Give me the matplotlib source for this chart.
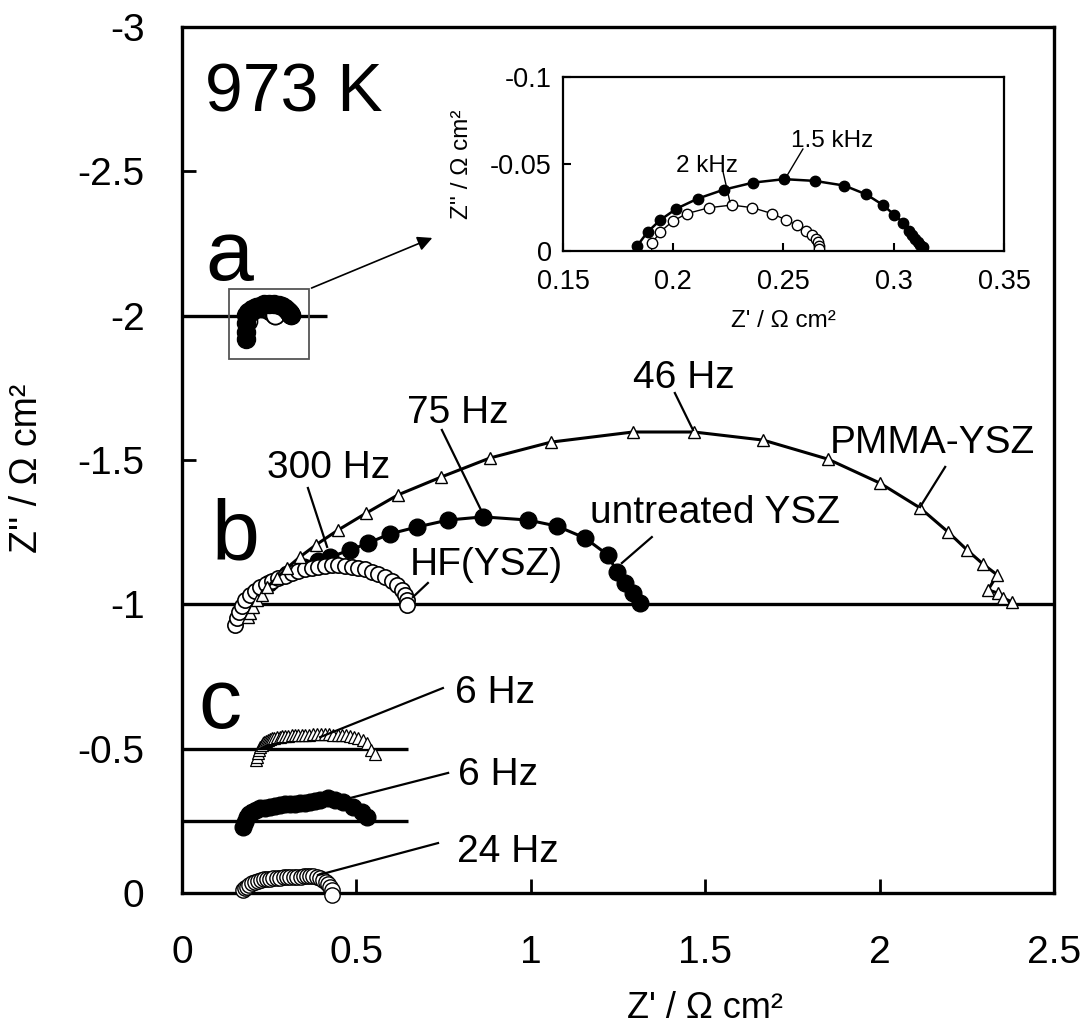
import numpy as np
import matplotlib
matplotlib.use("Agg")
import matplotlib.pyplot as plt
from matplotlib.patches import Rectangle

plt.rcParams['font.family'] = ['Liberation Sans', 'DejaVu Sans']
plt.rcParams['axes.unicode_minus'] = False

# vertical offsets of the stacked spectra
off_a = -2.0
off_b = -1.0
off_c_tri = -0.5
off_c_fill = -0.25
off_c_open = 0.0

# panel a (and inset): untreated YSZ (filled) / HF(YSZ) (open), Z' and Z''
a_fill_x = [0.183, 0.183, 0.183, 0.1836, 0.1884, 0.1941, 0.2014, 0.2111, 0.2228, 0.2362, 0.2503,
            0.2641, 0.2776, 0.2876, 0.2949, 0.3002, 0.3043, 0.3067, 0.3083, 0.3096, 0.3108,
            0.3119, 0.3132]
a_fill_y = [0.080, 0.055, 0.025, -0.0029, -0.0110, -0.0178, -0.0243, -0.0301, -0.0352, -0.0393,
            -0.0413, -0.0403, -0.0376, -0.0325, -0.0266, -0.0209, -0.0162, -0.0117, -0.0090,
            -0.0070, -0.0053, -0.0037, -0.0025]
a_open_x = [0.189, 0.1904, 0.1941, 0.1998, 0.2062, 0.2163, 0.2265, 0.2359, 0.2448, 0.2513,
            0.2562, 0.2600, 0.2630, 0.2646, 0.2656, 0.2662, 0.2659]
a_open_y = [0.020, -0.0045, -0.0110, -0.0172, -0.0215, -0.0249, -0.0264, -0.0249, -0.0215,
            -0.0178, -0.0147, -0.0117, -0.0090, -0.0070, -0.0049, -0.0029, -0.0010]

# panel b: PMMA-YSZ (triangles), untreated YSZ (filled), HF(YSZ) (open)
b_tri_x = [0.189, 0.195, 0.204, 0.215, 0.229, 0.244, 0.272, 0.301, 0.338, 0.384, 0.447, 0.528,
           0.619, 0.743, 0.883, 1.058, 1.293, 1.468, 1.666, 1.852, 2.001, 2.116, 2.196, 2.251,
           2.296, 2.337, 2.311, 2.339, 2.354, 2.380]
b_tri_y = [0.044, 0.030, 0.009, -0.015, -0.032, -0.060, -0.091, -0.126, -0.164, -0.206, -0.257,
           -0.316, -0.379, -0.441, -0.507, -0.562, -0.597, -0.597, -0.569, -0.503, -0.420,
           -0.334, -0.251, -0.188, -0.140, -0.102, -0.050, -0.039, -0.022, -0.008]
b_fill_x = [0.20, 0.25, 0.30, 0.35, 0.39, 0.424, 0.482, 0.533, 0.596, 0.674, 0.763, 0.863, 0.992,
            1.075, 1.155, 1.221, 1.247, 1.270, 1.293, 1.313]
b_fill_y = [-0.030, -0.075, -0.105, -0.130, -0.150, -0.164, -0.188, -0.212, -0.244, -0.268,
            -0.292, -0.303, -0.292, -0.271, -0.230, -0.171, -0.112, -0.074, -0.039, -0.005]
b_open_x = [0.152, 0.157, 0.162, 0.171, 0.181, 0.195, 0.209, 0.224, 0.241, 0.257, 0.276, 0.295,
            0.314, 0.334, 0.353, 0.372, 0.391, 0.410, 0.429, 0.448, 0.467, 0.486, 0.506, 0.525,
            0.544, 0.563, 0.582, 0.601, 0.616, 0.630, 0.639, 0.644, 0.644]
b_open_y = [0.072, 0.048, 0.025, 0.006, -0.015, -0.032, -0.047, -0.059, -0.070, -0.081, -0.090,
            -0.098, -0.107, -0.115, -0.122, -0.127, -0.130, -0.134, -0.135, -0.135, -0.134,
            -0.131, -0.127, -0.121, -0.113, -0.104, -0.094, -0.081, -0.066, -0.050, -0.032,
            -0.015, 0.002]

# panel c
c_tri_x = [0.212, 0.215, 0.218, 0.221, 0.224, 0.228, 0.232, 0.236, 0.241, 0.246, 0.252, 0.258,
           0.265, 0.272, 0.280, 0.288, 0.296, 0.305, 0.314, 0.323, 0.333, 0.343, 0.353, 0.364,
           0.375, 0.386, 0.398, 0.410, 0.422, 0.434, 0.446, 0.458, 0.470, 0.482, 0.494, 0.506,
           0.518, 0.530, 0.542, 0.553]
c_tri_y = [0.040, 0.028, 0.015, 0.004, -0.006, -0.013, -0.019, -0.024, -0.028, -0.031, -0.034,
           -0.036, -0.038, -0.040, -0.041, -0.043, -0.044, -0.045, -0.046, -0.047, -0.048,
           -0.048, -0.049, -0.049, -0.050, -0.050, -0.050, -0.050, -0.050, -0.049, -0.049,
           -0.048, -0.047, -0.045, -0.042, -0.036, -0.030, -0.018, 0.005, 0.020]
c_fill_x = [0.175, 0.180, 0.186, 0.193, 0.201, 0.212, 0.224, 0.238, 0.252, 0.266, 0.281, 0.295,
            0.310, 0.324, 0.338, 0.352, 0.367, 0.381, 0.396, 0.419, 0.440, 0.462, 0.490, 0.516,
            0.530]
c_fill_y = [0.021, 0.004, -0.013, -0.023, -0.031, -0.038, -0.044, -0.046, -0.048, -0.051,
            -0.055, -0.057, -0.058, -0.060, -0.062, -0.063, -0.065, -0.068, -0.072, -0.079,
            -0.072, -0.065, -0.048, -0.031, -0.013]
c_open_x = [0.175, 0.180, 0.186, 0.193, 0.201, 0.209, 0.218, 0.227, 0.236, 0.244, 0.253, 0.262,
            0.272, 0.282, 0.292, 0.301, 0.311, 0.320, 0.330, 0.340, 0.349, 0.358, 0.368, 0.377,
            0.387, 0.396, 0.404, 0.412, 0.419, 0.425, 0.430, 0.430]
c_open_y = [-0.010, -0.016, -0.021, -0.028, -0.035, -0.039, -0.042, -0.045, -0.047, -0.048,
            -0.050, -0.051, -0.052, -0.053, -0.054, -0.055, -0.055, -0.056, -0.056, -0.057,
            -0.058, -0.058, -0.059, -0.058, -0.055, -0.051, -0.045, -0.038, -0.031, -0.021,
            -0.010, 0.007]

# baselines: (y, x end)
baselines = [(off_a, 0.415), (off_b, 2.5), (off_c_tri, 0.648), (off_c_fill, 0.648)]

x_ticks = [0, 0.5, 1, 1.5, 2, 2.5]
x_ticklabels = ["0", "0.5", "1", "1.5", "2", "2.5"]
y_ticks = [0, -0.5, -1, -1.5, -2, -2.5, -3]
y_ticklabels = ["0", "-0.5", "-1", "-1.5", "-2", "-2.5", "-3"]
in_x_ticks = [0.15, 0.2, 0.25, 0.3, 0.35]
in_x_ticklabels = ["0.15", "0.2", "0.25", "0.3", "0.35"]
in_y_ticks = [0, -0.05, -0.1]
in_y_ticklabels = ["0", "-0.05", "-0.1"]

# label, text anchor (baseline), alignment, leader start, leader end
notes = [
    ("300 Hz", (0.244, -1.438), 'left', (0.361, -1.403), (0.416, -1.199)),
    ("75 Hz", (0.645, -1.628), 'left', (0.745, -1.604), (0.860, -1.320)),
    ("46 Hz", (1.293, -1.749), 'left', (1.413, -1.732), (1.465, -1.604)),
    ("PMMA-YSZ", (1.858, -1.524), 'left', (2.188, -1.476), (2.116, -1.337)),
    ("untreated YSZ", (1.886, -1.282), 'right', (1.347, -1.233), (1.261, -1.143)),
    ("HF(YSZ)", (0.654, -1.102), 'left', (0.705, -1.074), (0.662, -1.025)),
    ("6 Hz", (0.783, -0.658), 'left', (0.748, -0.710), (0.396, -0.540)),
    ("6 Hz", (0.791, -0.374), 'left', (0.763, -0.416), (0.482, -0.329)),
    ("24 Hz", (0.788, -0.107), 'left', (0.734, -0.173), (0.390, -0.062)),
]
in_notes = [
    ("1.5 kHz", (0.2534, -0.0598), (0.2588, -0.0586), (0.2507, -0.0414)),
    ("2 kHz", (0.2012, -0.0454), (0.2226, -0.0454), (0.2257, -0.0282)),
]


def shift(vals, off):
    return np.array(vals) + off


fig = plt.figure(figsize=(10.88, 10.32), dpi=100)
ax = fig.add_axes([0.16728, 0.13469, 0.80147, 0.83915])

for yb, xe in baselines:
    ax.plot([0, xe], [yb, yb], color='k', lw=2.4, zorder=2, solid_capstyle='butt')

# panel a
ax.plot(a_open_x, shift(a_open_y, off_a), 'o', ms=13, mfc='white', mec='k', mew=1.2, zorder=3)
ax.plot(a_fill_x, shift(a_fill_y, off_a), 'o', ms=13, mfc='k', mec='k', zorder=4)
ax.add_patch(Rectangle((0.135, -2.092), 0.229, 0.242, fill=False, ec='#555555', lw=1.3, zorder=5))
ax.annotate('', xy=(0.725, -2.273), xytext=(0.364, -2.092),
            arrowprops=dict(arrowstyle='-|>', color='k', lw=1.2, mutation_scale=22))

# panel b
ax.plot(b_fill_x, shift(b_fill_y, off_b), '-o', color='k', lw=2.2, ms=12, zorder=3)
ax.plot(b_open_x, shift(b_open_y, off_b), 'o', ms=11, mfc='white', mec='k', mew=1.2, zorder=4)
ax.plot(b_tri_x, shift(b_tri_y, off_b), '-^', color='k', lw=2.2, ms=8, mfc='white', mec='k',
        mew=1.0, zorder=5)

# panel c
ax.plot(c_tri_x, shift(c_tri_y, off_c_tri), '^', ms=8, mfc='white', mec='k', mew=0.9, zorder=3)
ax.plot(c_fill_x, shift(c_fill_y, off_c_fill), 'o', ms=12, mfc='k', mec='k', zorder=3)
ax.plot(c_open_x, shift(c_open_y, off_c_open), 'o', ms=11, mfc='white', mec='k', mew=1.0,
        zorder=3, clip_on=False)

for label, (tx, ty), ha, p0, p1 in notes:
    ax.text(tx, ty, label, fontsize=28, ha=ha, va='baseline', zorder=6)
    ax.plot([p0[0], p1[0]], [p0[1], p1[1]], color='k', lw=1.6, zorder=6)

ax.text(0.066, -2.706, "973 K", fontsize=49, va='baseline')
ax.text(0.066, -2.124, "a", fontsize=62, va='baseline')
ax.text(0.086, -1.154, "b", fontsize=62, va='baseline')
ax.text(0.046, -0.572, "c", fontsize=62, va='baseline')

ax.set_xlim(0, 2.5)
ax.set_ylim(0, -3)
ax.set_xticks(x_ticks)
ax.set_xticklabels(x_ticklabels)
ax.set_yticks(y_ticks)
ax.set_yticklabels(y_ticklabels)
ax.tick_params(direction='in', length=10, width=2, labelsize=28)
ax.tick_params(axis='y', pad=27)
ax.tick_params(axis='x', pad=30)
for s in ax.spines.values():
    s.set_linewidth(2.4)
ax.set_xlabel("Z' / Ω cm²", fontsize=26)
ax.set_ylabel("Z'' / Ω cm²", fontsize=27)
ax.xaxis.set_label_coords(0.6, -0.113)
ax.yaxis.set_label_coords(-0.157, 0.49)

# inset
ax_in = fig.add_axes([0.51746, 0.75678, 0.40533, 0.16860])
ax_in.plot(a_open_x, a_open_y, '-o', color='k', lw=1.0, ms=7.5, mfc='white', mec='k', mew=1.0)
ax_in.plot(a_fill_x, a_fill_y, '-o', color='k', lw=1.8, ms=7.5)
for label, (tx, ty), p0, p1 in in_notes:
    ax_in.text(tx, ty, label, fontsize=17.5, ha='left', va='baseline')
    ax_in.plot([p0[0], p1[0]], [p0[1], p1[1]], color='k', lw=1.0)
ax_in.set_xlim(0.15, 0.35)
ax_in.set_ylim(0, -0.1)
ax_in.set_xticks(in_x_ticks)
ax_in.set_xticklabels(in_x_ticklabels)
ax_in.set_yticks(in_y_ticks)
ax_in.set_yticklabels(in_y_ticklabels)
ax_in.tick_params(direction='in', length=6, width=1.5, labelsize=19.5)
ax_in.tick_params(axis='x', pad=13)
ax_in.tick_params(axis='y', pad=8)
for s in ax_in.spines.values():
    s.set_linewidth(1.6)
ax_in.set_xlabel("Z' / Ω cm²", fontsize=17.5)
ax_in.set_ylabel("Z'' / Ω cm²", fontsize=17.5)
ax_in.xaxis.set_label_coords(0.5, -0.34)
ax_in.yaxis.set_label_coords(-0.205, 0.5)

fig.savefig("out.png", dpi=100)
